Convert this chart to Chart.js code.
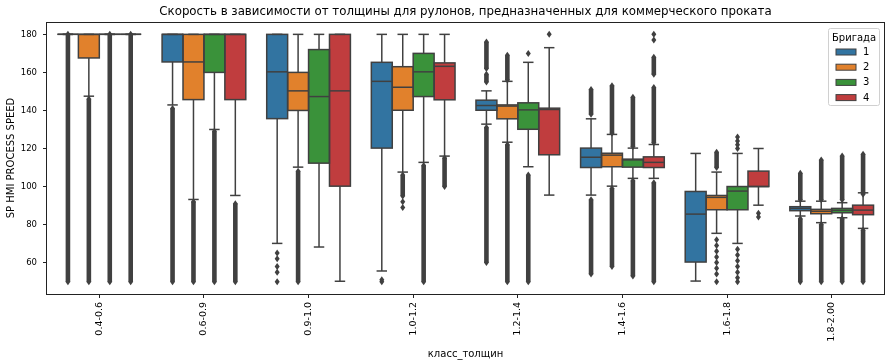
<!DOCTYPE html>
<html>
<head>
<meta charset="utf-8">
<script src="https://cdn.jsdelivr.net/npm/chart.js@4.4.0/dist/chart.umd.min.js"></script>
<style>
  html, body { margin: 0; padding: 0; background: #fff; }
  #wrap { width: 891px; height: 364px; }
</style>
</head>
<body>
<div id="wrap"><canvas id="boxChart" width="891" height="364"></canvas></div>
<script>
// Thickness classes and crews
const categories = ['0.4-0.6', '0.6-0.9', '0.9-1.0', '1.0-1.2', '1.2-1.4', '1.4-1.6', '1.6-1.8', '1.8-2.00'];
const brigades = ['1', '2', '3', '4'];
const brigadeColors = ['#3274a1', '#e1812c', '#3a923a', '#c03d3e'];
const yTicks = [60, 80, 100, 120, 140, 160, 180];

// Box stats, one row per brigade, one value per class
const lowerQuartile = [
  [180, 165.5, 135.7, 120.2, 140.1, 110.0, 60.3, 87.3],
  [167.6, 145.7, 140.0, 140.1, 135.6, 110.4, 87.8, 85.7],
  [180, 160.0, 112.3, 147.3, 130.1, 110.2, 87.8, 86.2],
  [180, 145.7, 100.2, 145.6, 116.7, 110.0, 100.0, 85.2]
];
const medians = [
  [180, 180, 160.3, 155.3, 142.6, 115.4, 85.5, 88.5],
  [180, 165.5, 150.3, 152.2, 142.3, 116.5, 94.3, 87.0],
  [180, 180, 147.3, 160.3, 140.3, 114.0, 97.6, 87.5],
  [180, 180, 150.3, 163.2, 140.5, 112.7, 100.0, 87.6]
];
const upperQuartile = [
  [180, 180, 180, 165.3, 145.4, 120.2, 97.4, 89.4],
  [180, 180, 160.0, 163.0, 142.9, 117.5, 95.3, 88.0],
  [180, 180, 172.0, 170.0, 144.0, 114.4, 100.0, 88.5],
  [180, 180, 180, 165.0, 141.2, 115.6, 108.1, 90.2]
];
const whiskerLow = [
  [180, 142.9, 70.1, 55.6, 132.8, 95.5, 50.3, 84.5],
  [147.5, 93.2, 110.2, 107.6, 123.3, 100.2, 75.4, 81.0],
  [180, 130.0, 68.2, 112.7, 110.4, 104.3, 70.1, 83.6],
  [180, 95.3, 50.2, 116.0, 95.5, 104.3, 90.2, 78.0]
];
const whiskerHigh = [
  [180, 180, 180, 180, 150.3, 135.6, 117.4, 92.3],
  [180, 180, 180, 180, 155.3, 127.4, 107.6, 92.3],
  [180, 180, 180, 180, 165.3, 120.2, 117.4, 91.5],
  [180, 180, 180, 180, 173.0, 122.1, 120.0, 96.7]
];
// outliers: a number is one point, [lo, hi] is a packed run of points
const outliers = [
  [[[50, 180]], [[50, 141]], [65, 62, 58, 55, 50], [51, 50], [[162, 176], [155, 159], [60, 131]],
   [[138, 151], [54, 93]], [], [[93, 107], [50, 83]]],
  [[[50, 146]], [[50, 92]], [[50, 108]], [[95, 106], 92, 89], [[156, 169], [50, 122]],
   [[128, 153], [58, 99]], [[110, 118], 72, 69, 66, 63, 60, 57, 54, 50], [[93, 114], [50, 80]]],
  [[[50, 180]], [[50, 129]], [], [[50, 111]], [170, [50, 106]],
   [[121, 147], [53, 103]], [126, 124, 122, 120, 67, 64, 61, 58, 55, 52, 50], [[93, 116], [50, 83]]],
  [[[50, 180]], [[50, 91]], [], [[100, 115]], [180],
   [180, 177, [159, 168], [123, 152], [50, 102]], [86, 84], [[96, 117], [50, 77]]]
];

const lineColor = '#404040';
const font = 'DejaVu Sans';

// whiskers, box edges, medians and fliers, placed on the bars' own x positions
const boxParts = {
  id: 'boxParts',
  afterDatasetsDraw(chart) {
    const ctx = chart.ctx;
    const y = chart.scales.y;
    const area = chart.chartArea;
    ctx.save();
    ctx.beginPath();
    ctx.rect(area.left, area.top, area.right - area.left, area.bottom - area.top);
    ctx.clip();
    ctx.lineWidth = 1.5;
    ctx.strokeStyle = lineColor;
    ctx.fillStyle = lineColor;

    const line = (x1, y1, x2, y2) => {
      ctx.beginPath(); ctx.moveTo(x1, y1); ctx.lineTo(x2, y2); ctx.stroke();
    };
    const diamond = (cx, py) => {
      ctx.beginPath();
      ctx.moveTo(cx, py - 3.5); ctx.lineTo(cx + 2.5, py);
      ctx.lineTo(cx, py + 3.5); ctx.lineTo(cx - 2.5, py);
      ctx.closePath(); ctx.fill();
    };

    brigades.forEach((b, bi) => {
      const meta = chart.getDatasetMeta(bi);
      meta.data.forEach((bar, i) => {
        const cx = bar.x, w = bar.width;
        const left = cx - w / 2, right = cx + w / 2;
        const pQ1 = y.getPixelForValue(lowerQuartile[bi][i]);
        const pQ3 = y.getPixelForValue(upperQuartile[bi][i]);
        const pMed = y.getPixelForValue(medians[bi][i]);
        const pLo = y.getPixelForValue(whiskerLow[bi][i]);
        const pHi = y.getPixelForValue(whiskerHigh[bi][i]);

        line(cx, pQ1, cx, pLo);
        line(cx, pQ3, cx, pHi);
        line(cx - w / 4, pLo, cx + w / 4, pLo);
        line(cx - w / 4, pHi, cx + w / 4, pHi);

        outliers[bi][i].forEach(o => {
          if (Array.isArray(o)) {
            const top = y.getPixelForValue(o[1]);
            const bot = y.getPixelForValue(o[0]);
            ctx.fillRect(cx - 2.3, top, 4.6, bot - top);
            diamond(cx, top);
            diamond(cx, bot);
          } else {
            diamond(cx, y.getPixelForValue(o));
          }
        });

        ctx.strokeRect(left, pQ3, right - left, pQ1 - pQ3);
        line(left, pMed, right, pMed);
      });
    });
    ctx.restore();

    // frame around the plot
    ctx.save();
    ctx.strokeStyle = '#222';
    ctx.lineWidth = 1;
    ctx.strokeRect(Math.round(area.left) - 0.5, Math.round(area.top) + 0.5,
      Math.round(area.right - area.left) + 1, Math.round(area.bottom - area.top));
    ctx.restore();

    // legend, matplotlib style in the upper right corner
    ctx.save();
    const lx = area.right - 56, ly = area.top + 6, lw = 51, lh = 77;
    ctx.fillStyle = 'rgba(255,255,255,0.8)';
    ctx.strokeStyle = '#d0d0d0';
    ctx.lineWidth = 1;
    ctx.beginPath();
    ctx.roundRect(lx + 0.5, ly + 0.5, lw, lh, 2);
    ctx.fill(); ctx.stroke();
    ctx.fillStyle = '#000';
    ctx.font = '10px ' + font;
    ctx.textAlign = 'center';
    ctx.textBaseline = 'middle';
    ctx.fillText('Бригада', lx + lw / 2 + 0.5, ly + 10);
    brigades.forEach((b, bi) => {
      const ey = ly + 24 + bi * 15.2;
      ctx.fillStyle = brigadeColors[bi];
      ctx.fillRect(lx + 8, ey - 3, 20, 6);
      ctx.strokeStyle = lineColor;
      ctx.lineWidth = 1;
      ctx.strokeRect(lx + 8, ey - 3, 20, 6);
      ctx.fillStyle = '#000';
      ctx.textAlign = 'left';
      ctx.fillText(b, lx + 35, ey + 0.5);
    });
    ctx.restore();

    // title centred over the plot area
    ctx.save();
    ctx.fillStyle = '#000';
    ctx.font = '11.8px ' + font;
    ctx.textAlign = 'center';
    ctx.textBaseline = 'middle';
    ctx.fillText('Скорость в зависимости от толщины для рулонов, предназначенных для коммерческого проката',
      (area.left + area.right) / 2, 12);
    ctx.restore();
  }
};

const datasets = brigades.map((b, bi) => ({
  label: b,
  data: categories.map((c, i) => [lowerQuartile[bi][i], upperQuartile[bi][i]]),
  backgroundColor: brigadeColors[bi],
  borderWidth: 0,
  categoryPercentage: 0.8,
  barPercentage: 1.0
}));

new Chart(document.getElementById('boxChart'), {
  type: 'bar',
  data: { labels: categories, datasets: datasets },
  options: {
    responsive: false,
    animation: false,
    layout: { padding: { top: 22, right: 7, left: 0, bottom: 4 } },
    plugins: {
      legend: { display: false },
      title: { display: false },
      tooltip: { enabled: false }
    },
    scales: {
      x: {
        offset: true,
        grid: { display: true, offset: false, drawOnChartArea: false, drawTicks: true, tickLength: 4, color: '#222' },
        border: { display: false },
        ticks: { color: '#000', font: { family: font, size: 9.5 }, maxRotation: 90, minRotation: 90, padding: 4 },
        title: { display: true, text: 'класс_толщин', color: '#000', font: { family: font, size: 10 }, padding: { top: 0, bottom: 0 } },
        afterFit: s => { s.height = 66; }
      },
      y: {
        min: 43.5,
        max: 186.5,
        grid: { display: true, drawOnChartArea: false, drawTicks: true, tickLength: 4, color: '#222' },
        border: { display: false },
        ticks: { color: '#000', font: { family: font, size: 8.5 }, padding: 6 },
        title: { display: true, text: 'SP HMI PROCESS SPEED', color: '#000', font: { family: font, size: 10 }, padding: { top: 5, bottom: 0 } },
        afterBuildTicks: s => { s.ticks = yTicks.map(v => ({ value: v })); },
        afterFit: s => { s.width = 47; }
      }
    }
  },
  plugins: [boxParts]
});
</script>
</body>
</html>
